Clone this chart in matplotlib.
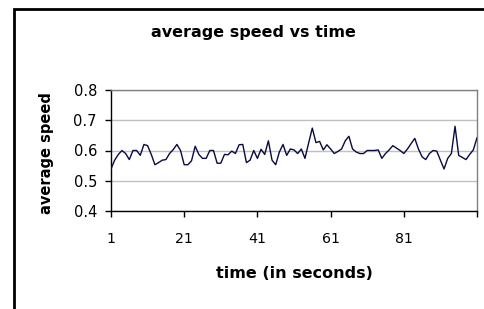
import matplotlib
matplotlib.use("Agg")
import matplotlib.pyplot as plt
from matplotlib.patches import Rectangle

# Data
time = list(range(1, 102))
speed = [0.539, 0.568, 0.587, 0.600, 0.590, 0.570, 0.600, 0.600, 0.584, 0.620,
         0.616, 0.587, 0.553, 0.560, 0.568, 0.570, 0.590, 0.603, 0.620, 0.600,
         0.553, 0.553, 0.566, 0.614, 0.587, 0.574, 0.574, 0.600, 0.600, 0.558,
         0.558, 0.587, 0.586, 0.598, 0.590, 0.619, 0.620, 0.560, 0.568, 0.600,
         0.574, 0.604, 0.587, 0.632, 0.568, 0.553, 0.595, 0.620, 0.584, 0.605,
         0.602, 0.590, 0.605, 0.574, 0.625, 0.674, 0.626, 0.630, 0.602, 0.619,
         0.605, 0.590, 0.597, 0.605, 0.632, 0.647, 0.605, 0.595, 0.590, 0.590,
         0.600, 0.600, 0.600, 0.602, 0.574, 0.590, 0.602, 0.616, 0.608, 0.600,
         0.590, 0.605, 0.623, 0.640, 0.605, 0.579, 0.570, 0.590, 0.600, 0.598,
         0.568, 0.539, 0.574, 0.590, 0.680, 0.584, 0.577, 0.570, 0.587, 0.602,
         0.642]
xticks = [1, 21, 41, 61, 81]
yticks = [0.4, 0.5, 0.6, 0.7, 0.8]

W, H = 484, 309
fig = plt.figure(figsize=(W / 100, H / 100), dpi=100)
fig.patch.set_facecolor("white")

# chart area border (cut off at right and bottom)
fig.patches.append(Rectangle((14 / W, -0.05), 1.2, 1 - 8.5 / H + 0.05,
                             transform=fig.transFigure, fill=False,
                             edgecolor="black", linewidth=2.0, zorder=10))

ax = fig.add_axes([111 / W, 1 - 211 / H, (477 - 111) / W, (211 - 90) / H])
ax.plot(time, speed, color="#0a0a40", linewidth=1.0, zorder=3)

ax.set_xlim(1, 101)
ax.set_ylim(0.4, 0.8)
ax.set_xticks(xticks)
ax.set_xticklabels([str(t) for t in xticks])
ax.set_xticks([101], minor=True)
ax.set_yticks(yticks)
ax.set_yticklabels([f"{v:.1f}" for v in yticks])

ax.yaxis.grid(True, color="#c0c0c0", linewidth=1.0, zorder=0)
ax.set_axisbelow(True)

for s in ["top", "right"]:
    ax.spines[s].set_color("#808080")
    ax.spines[s].set_linewidth(1.0)
for s in ["left", "bottom"]:
    ax.spines[s].set_color("black")
    ax.spines[s].set_linewidth(1.0)

ax.tick_params(axis="x", which="both", direction="out", length=4.2, width=1.0,
               pad=11, labelsize=10.2, color="black")
ax.tick_params(axis="y", direction="out", length=4.3, width=1.0, pad=5.8,
               labelsize=10.5, color="black")

fig.text(253 / W, 1 - 32 / H, "average speed vs time", ha="center", va="center",
         fontsize=11.5, fontweight="bold", family="DejaVu Sans")
fig.text(294 / W, 1 - 273 / H, "time (in seconds)", ha="center", va="center",
         fontsize=11.5, fontweight="bold", family="DejaVu Sans")
fig.text(47 / W, 1 - 153 / H, "average speed", ha="center", va="center",
         rotation=90, fontsize=10.5, fontweight="bold", family="DejaVu Sans")

fig.savefig("out.png", dpi=100)
